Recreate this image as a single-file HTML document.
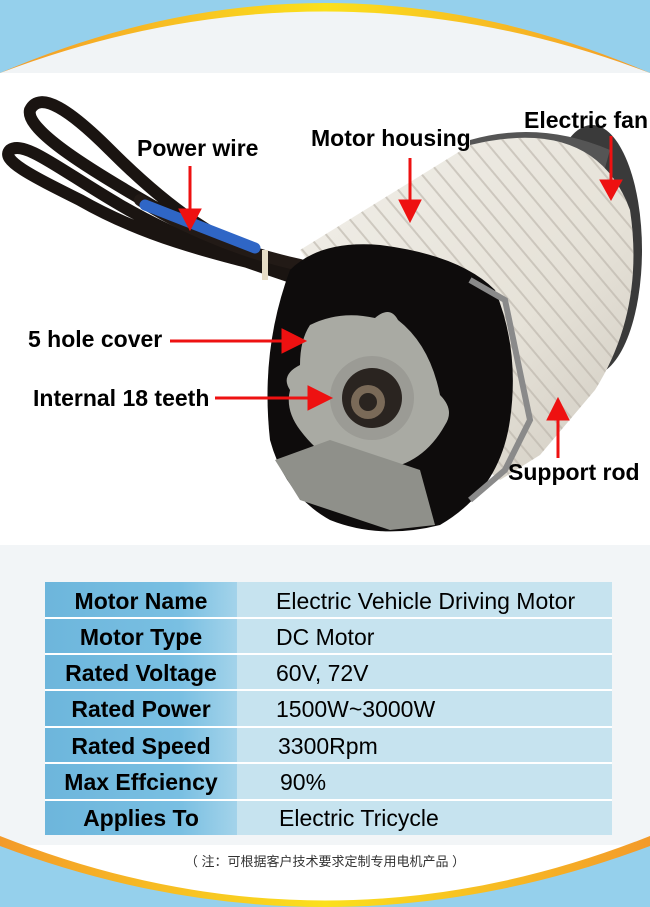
<!DOCTYPE html>
<html><head><meta charset="utf-8"><style>
html,body{margin:0;padding:0;background:#fff}
svg{display:block}
.lb{font-family:"Liberation Sans",Arial,sans-serif;font-weight:bold;font-size:23px;fill:#000}
.tl{font-family:"Liberation Sans",Arial,sans-serif;font-weight:bold;font-size:23px;fill:#000}
.tr{font-family:"Liberation Sans",Arial,sans-serif;font-size:23px;fill:#000}
</style></head><body>
<svg width="650" height="907" viewBox="0 0 650 907" xmlns="http://www.w3.org/2000/svg">
<defs>
<linearGradient id="arc" x1="0" x2="1"><stop offset="0" stop-color="#f39a2a"/><stop offset="0.5" stop-color="#fbe01c"/><stop offset="1" stop-color="#f39a2a"/></linearGradient>
<linearGradient id="lc" x1="0" x2="1"><stop offset="0" stop-color="#6db6dc"/><stop offset="0.7" stop-color="#79bfe2"/><stop offset="1" stop-color="#a3d3ea"/></linearGradient>
<linearGradient id="body" x1="0" y1="0" x2="1" y2="1"><stop offset="0" stop-color="#f1efe9"/><stop offset="0.6" stop-color="#e6e2d8"/><stop offset="1" stop-color="#cfcac0"/></linearGradient>
<pattern id="rib" width="14" height="14" patternUnits="userSpaceOnUse" patternTransform="rotate(-40)"><rect width="14" height="14" fill="none"/><rect width="2" height="14" fill="#b9b3a8" opacity="0.6"/></pattern>
</defs>
<!-- top band -->
<rect x="0" y="0" width="650" height="73" fill="#95d0ec"/>
<path d="M0 73 Q325 -67 650 73 Z" fill="url(#arc)"/>
<path d="M0 73 Q325 -50 650 73 Z" fill="#f1f4f6"/>
<!-- middle bg -->
<rect x="0" y="545" width="650" height="300" fill="#f2f5f7"/>
<!-- bottom band -->
<path d="M0 836 Q325 965 650 836 L650 907 L0 907 Z" fill="url(#arc)"/>
<path d="M0 846 Q325 968 650 846 L650 907 L0 907 Z" fill="#95d0ec"/>
<text x="325" y="866" text-anchor="middle" font-family="'Liberation Sans','Noto Sans CJK SC',sans-serif" font-size="13" fill="#333">（ 注：可根据客户技术要求定制专用电机产品 ）</text>

<!-- cables -->
<g fill="none" stroke-linecap="round">
<path d="M300 270 C220 250 160 200 110 150 C70 110 40 90 30 110 C25 130 90 170 160 210 C200 235 250 255 300 272" stroke="#1a1411" stroke-width="12"/>
<path d="M300 275 C220 255 150 240 80 200 C30 175 0 160 10 150 C25 140 60 170 120 205 C180 240 240 260 300 280" stroke="#1a1411" stroke-width="12"/>
<path d="M300 265 C230 250 170 220 140 200" stroke="#221a16" stroke-width="12"/>
<path d="M145 205 L255 248" stroke="#2f66c6" stroke-width="11"/>
</g>
<rect x="262" y="250" width="6" height="30" fill="#e6dcc6"/>

<!-- back fan ring -->
<ellipse cx="592" cy="250" rx="50" ry="125" fill="#3a3a3a"/>
<path d="M470 140 Q540 120 610 150 L560 330 Q500 300 470 300 Z" fill="#555"/>
<!-- body -->
<path d="M300 250 L470 145 Q595 115 630 210 Q645 310 595 390 L540 455 L500 480 L420 420 Z" fill="url(#body)"/>
<path d="M300 250 L470 145 Q595 115 630 210 Q645 310 595 390 L540 455 L500 480 L420 420 Z" fill="url(#rib)"/>
<!-- front cap -->
<path d="M290 270 Q320 240 380 245 Q460 255 495 290 Q520 350 510 420 Q500 490 440 525 Q380 540 330 520 Q285 495 270 440 Q260 350 290 270 Z" fill="#0e0c0c"/>
<path d="M470 280 L505 300 L530 420 L505 470 L470 500" fill="none" stroke="#8a8a8a" stroke-width="6"/>
<!-- flange -->
<path d="M310 325 Q340 310 375 318 Q390 305 398 320 Q430 345 440 395 Q455 410 445 425 Q420 470 370 470 Q330 470 300 430 Q285 410 290 390 Q280 375 300 365 Q300 340 310 325 Z" fill="#a9aaa3"/>
<path d="M275 460 L330 440 L420 470 L435 525 L390 530 L300 500 Z" fill="#8f908a"/>
<circle cx="372" cy="398" r="42" fill="#9b9b95"/>
<circle cx="372" cy="398" r="30" fill="#2a2420"/>
<circle cx="368" cy="402" r="17" fill="#7a6a58"/>
<circle cx="368" cy="402" r="9" fill="#2a2420"/>

<!-- labels -->
<text class="lb" x="137" y="156">Power wire</text>
<text class="lb" x="311" y="146">Motor housing</text>
<text class="lb" x="524" y="128">Electric fan</text>
<text class="lb" x="28" y="347">5 hole cover</text>
<text class="lb" x="33" y="406">Internal 18 teeth</text>
<text class="lb" x="508" y="480">Support rod</text>
<g fill="#ee1111" stroke="#ee1111">
<line x1="190" y1="166" x2="190" y2="218" stroke-width="3"/><path d="M179 209 L190 230 L201 209 Z"/>
<line x1="410" y1="158" x2="410" y2="210" stroke-width="3"/><path d="M399 200 L410 222 L421 200 Z"/>
<line x1="611" y1="136" x2="611" y2="188" stroke-width="3"/><path d="M600 180 L611 200 L622 180 Z"/>
<line x1="170" y1="341" x2="292" y2="341" stroke-width="3"/><path d="M282 329 L306 341 L282 353 Z"/>
<line x1="215" y1="398" x2="318" y2="398" stroke-width="3"/><path d="M308 386 L332 398 L308 410 Z"/>
<line x1="558" y1="458" x2="558" y2="412" stroke-width="3"/><path d="M547 420 L558 398 L569 420 Z"/>
</g>

<!-- table -->
<g>
<rect x="45" y="582" width="567" height="253" fill="#fff"/>
<g fill="url(#lc)">
<rect x="45" y="582" width="192" height="35"/><rect x="45" y="619" width="192" height="34"/>
<rect x="45" y="655" width="192" height="34"/><rect x="45" y="691" width="192" height="35"/>
<rect x="45" y="728" width="192" height="34"/><rect x="45" y="764" width="192" height="35"/>
<rect x="45" y="801" width="192" height="34"/>
</g>
<g fill="#c6e3ef">
<rect x="237" y="582" width="375" height="35"/><rect x="237" y="619" width="375" height="34"/>
<rect x="237" y="655" width="375" height="34"/><rect x="237" y="691" width="375" height="35"/>
<rect x="237" y="728" width="375" height="34"/><rect x="237" y="764" width="375" height="35"/>
<rect x="237" y="801" width="375" height="34"/>
</g>
<g text-anchor="middle">
<text class="tl" x="141" y="609">Motor Name</text>
<text class="tl" x="141" y="645">Motor Type</text>
<text class="tl" x="141" y="681">Rated Voltage</text>
<text class="tl" x="141" y="717">Rated Power</text>
<text class="tl" x="141" y="754">Rated Speed</text>
<text class="tl" x="141" y="790">Max Effciency</text>
<text class="tl" x="141" y="826">Applies To</text>
</g>
<text class="tr" x="276" y="609">Electric Vehicle Driving Motor</text>
<text class="tr" x="276" y="645">DC Motor</text>
<text class="tr" x="276" y="681">60V, 72V</text>
<text class="tr" x="276" y="717">1500W~3000W</text>
<text class="tr" x="278" y="754">3300Rpm</text>
<text class="tr" x="280" y="790">90%</text>
<text class="tr" x="279" y="826">Electric Tricycle</text>
</g>
</svg>
</body></html>
